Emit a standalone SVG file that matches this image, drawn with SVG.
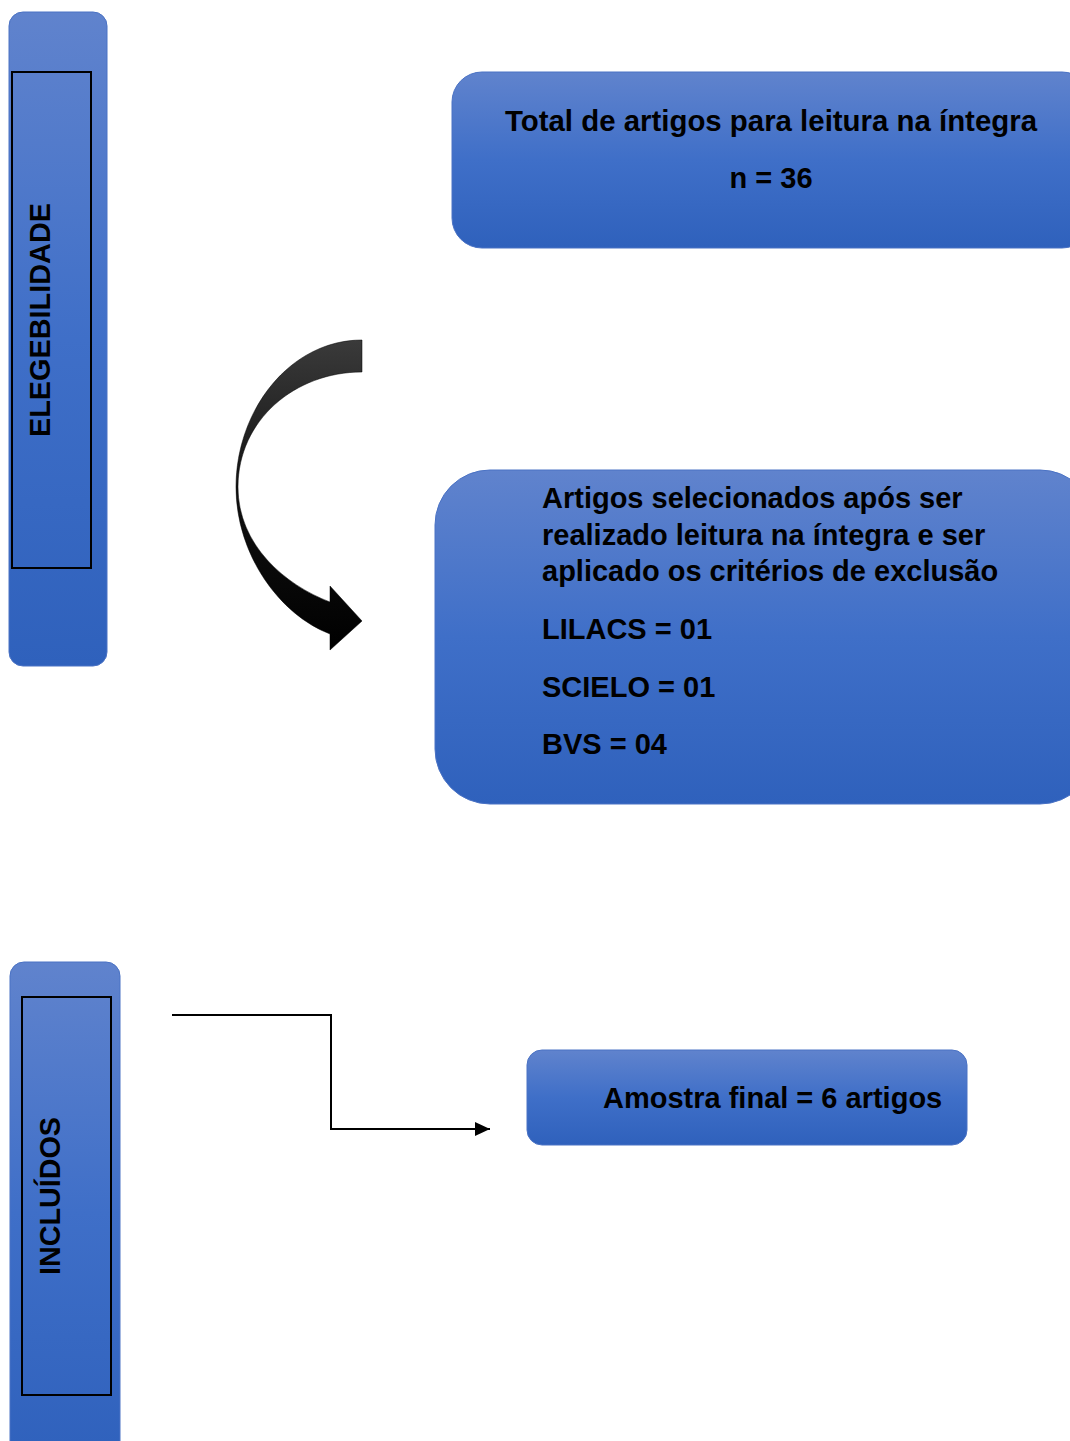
<svg xmlns="http://www.w3.org/2000/svg" width="1070" height="1441" viewBox="0 0 1070 1441">
<defs>
<linearGradient id="blue" x1="0" y1="0" x2="0" y2="1">
<stop offset="0" stop-color="#6083cd"/>
<stop offset="0.5" stop-color="#3f6fc8"/>
<stop offset="1" stop-color="#2f61bc"/>
</linearGradient>
<linearGradient id="dark" x1="0" y1="0" x2="0" y2="1">
<stop offset="0" stop-color="#3a3a3a"/>
<stop offset="0.5" stop-color="#111"/>
<stop offset="1" stop-color="#000"/>
</linearGradient>
<marker id="arr" markerWidth="15" markerHeight="14" refX="15" refY="7" orient="auto" markerUnits="userSpaceOnUse">
<path d="M0,0 L15,7 L0,14 Z" fill="#000"/>
</marker>
</defs>
<style>
.box{fill:url(#blue);stroke:#4a72c4;stroke-width:1}
.inner{fill:none;stroke:#000;stroke-width:2}
.t{font-family:"Liberation Sans",Arial,sans-serif;font-weight:bold;font-size:29px;fill:#000}
.conn{fill:none;stroke:#000;stroke-width:2}
</style>
<g id="elegibilidade">
<rect class="box" x="9" y="12" width="98" height="654" rx="14"/>
<rect class="inner" x="12" y="72" width="79" height="496"/>
<text class="t" transform="translate(50,320) rotate(-90)" text-anchor="middle" textLength="234" lengthAdjust="spacingAndGlyphs">ELEGEBILIDADE</text>
</g>
<g id="incluidos">
<rect class="box" x="10" y="962" width="110" height="500" rx="14"/>
<rect class="inner" x="22" y="997" width="89" height="398"/>
<text class="t" transform="translate(60,1196) rotate(-90)" text-anchor="middle" textLength="158" lengthAdjust="spacingAndGlyphs">INCLUÍDOS</text>
</g>
<g id="total">
<rect class="box" x="452" y="72" width="640" height="176" rx="30"/>
<text class="t" x="771" y="131" text-anchor="middle" font-size="31" textLength="532" lengthAdjust="spacingAndGlyphs">Total de artigos para leitura na íntegra</text>
<text class="t" x="771" y="188" text-anchor="middle">n = 36</text>
</g>
<g id="selecionados">
<rect class="box" x="435" y="470" width="660" height="334" rx="55"/>
<text class="t" x="542" y="508">Artigos selecionados após ser</text>
<text class="t" x="542" y="545">realizado leitura na íntegra e ser</text>
<text class="t" x="542" y="581">aplicado os critérios de exclusão</text>
<text class="t" x="542" y="639">LILACS = 01</text>
<text class="t" x="542" y="697">SCIELO = 01</text>
<text class="t" x="542" y="754">BVS = 04</text>
</g>
<g id="amostra">
<rect class="box" x="527" y="1050" width="440" height="95" rx="15"/>
<text class="t" x="603" y="1108">Amostra final = 6 artigos</text>
</g>
<g id="connectors">
<path d="M362,340 C290,340 236,410 236,487 C236,555 280,615 330,634 L330,650 L362,621 L330,586 L330,602 C285,585 238,545 238,487 C238,420 295,372 362,372 Z" fill="url(#dark)" stroke="#000" stroke-width="0.5"/>
<path class="conn" d="M172,1015 L331,1015 L331,1129 L490,1129" marker-end="url(#arr)"/>
</g>
</svg>
